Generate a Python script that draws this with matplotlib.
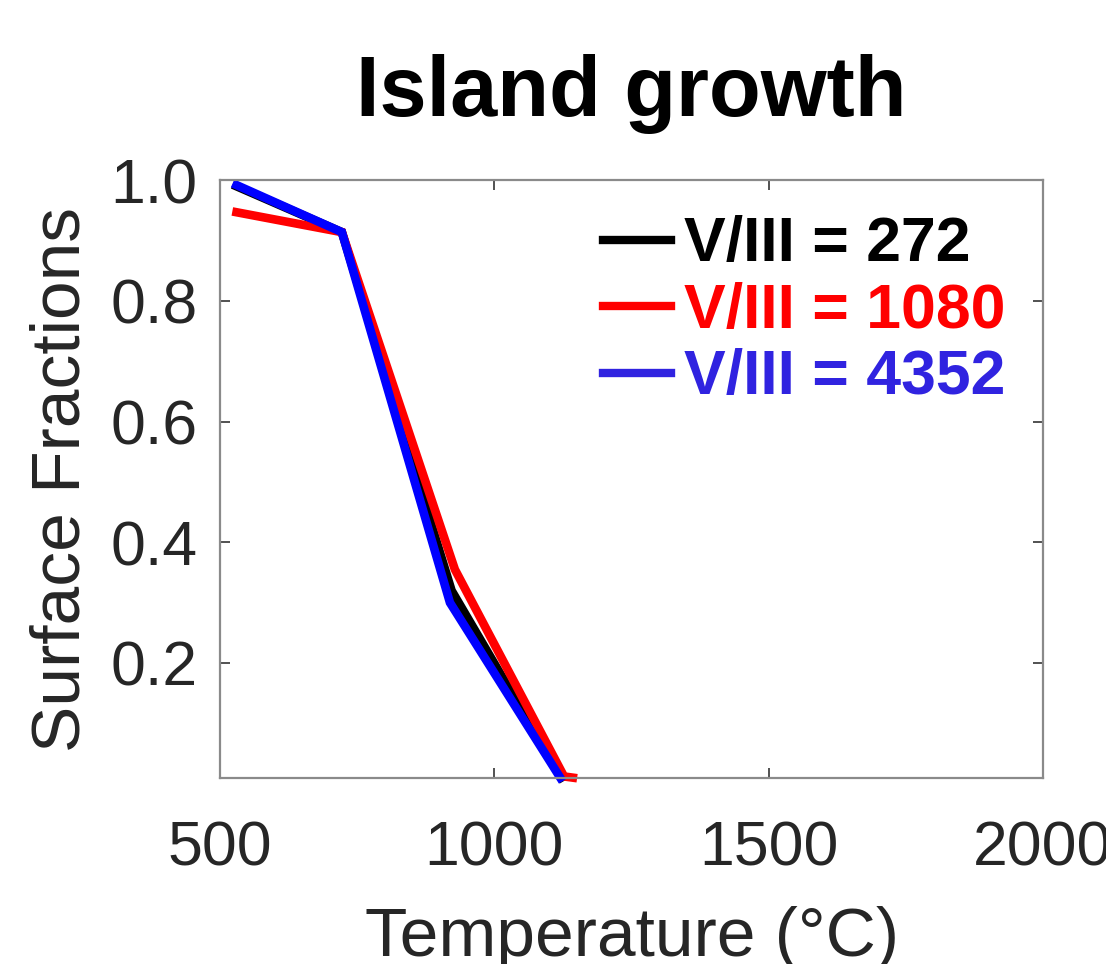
import matplotlib
matplotlib.use("Agg")
import matplotlib.pyplot as plt
from matplotlib.lines import Line2D

plt.rcParams['font.family'] = ['Liberation Sans', 'DejaVu Sans']

# Surface fraction vs. temperature for three V/III ratios
temp_272 = [530, 722, 922, 1122]
frac_272 = [0.99, 0.914, 0.32, 0.01]

temp_1080 = [530, 722, 928, 1127, 1143]
frac_1080 = [0.947, 0.914, 0.355, 0.012, 0.01]

temp_4352 = [530, 722, 919, 1120]
frac_4352 = [0.992, 0.914, 0.30, 0.01]

labels = ['V/III = 272', 'V/III = 1080', 'V/III = 4352']
line_colors = ['#000000', '#ff0000', '#0000ff']
legend_colors = ['#000000', '#ff0000', '#3023e0']

xticks = [500, 1000, 1500, 2000]
yticks = [0.2, 0.4, 0.6, 0.8, 1.0]
ytick_labels = ['0.2', '0.4', '0.6', '0.8', '1.0']

fig = plt.figure(figsize=(11.06, 9.64), dpi=100)
ax = fig.add_axes([0.199, 0.193, 0.744, 0.620])

series = [(temp_272, frac_272), (temp_1080, frac_1080), (temp_4352, frac_4352)]
for (t, f), c in zip(series, line_colors):
    ax.plot(t, f, color=c, lw=6.2, solid_joinstyle='miter', clip_on=False)

ax.set_xlim(500, 2000)
ax.set_ylim(0.0095, 1.0)
ax.set_xticks(xticks)
ax.set_yticks(yticks)
ax.set_yticklabels(ytick_labels)

for s in ax.spines.values():
    s.set_color('#8a8a8a')
    s.set_linewidth(1.6)
ax.tick_params(axis='both', which='both', direction='in', top=True, right=True,
               length=7, width=1.2, color='#333333', labelcolor='#262626',
               labelsize=45)
ax.tick_params(axis='x', pad=30)
ax.tick_params(axis='y', pad=16)

ax.set_xlabel('Temperature (°C)', fontsize=50, color='#262626', labelpad=20)
ax.set_ylabel('Surface Fractions', fontsize=50, color='#262626', labelpad=12)
ax.set_title('Island growth', fontsize=61, fontweight='bold', pad=46)

handles = [Line2D([0], [0], color=c, lw=6) for c in legend_colors]
leg = ax.legend(handles, labels, loc='upper right', frameon=False,
                prop={'size': 45, 'weight': 'bold'}, handlelength=1.09,
                handletextpad=0.21, labelspacing=0.12,
                borderaxespad=0.0, bbox_to_anchor=(0.985, 0.983))
for txt, c in zip(leg.get_texts(), legend_colors):
    txt.set_color(c)

fig.savefig('out.png', dpi=100)
